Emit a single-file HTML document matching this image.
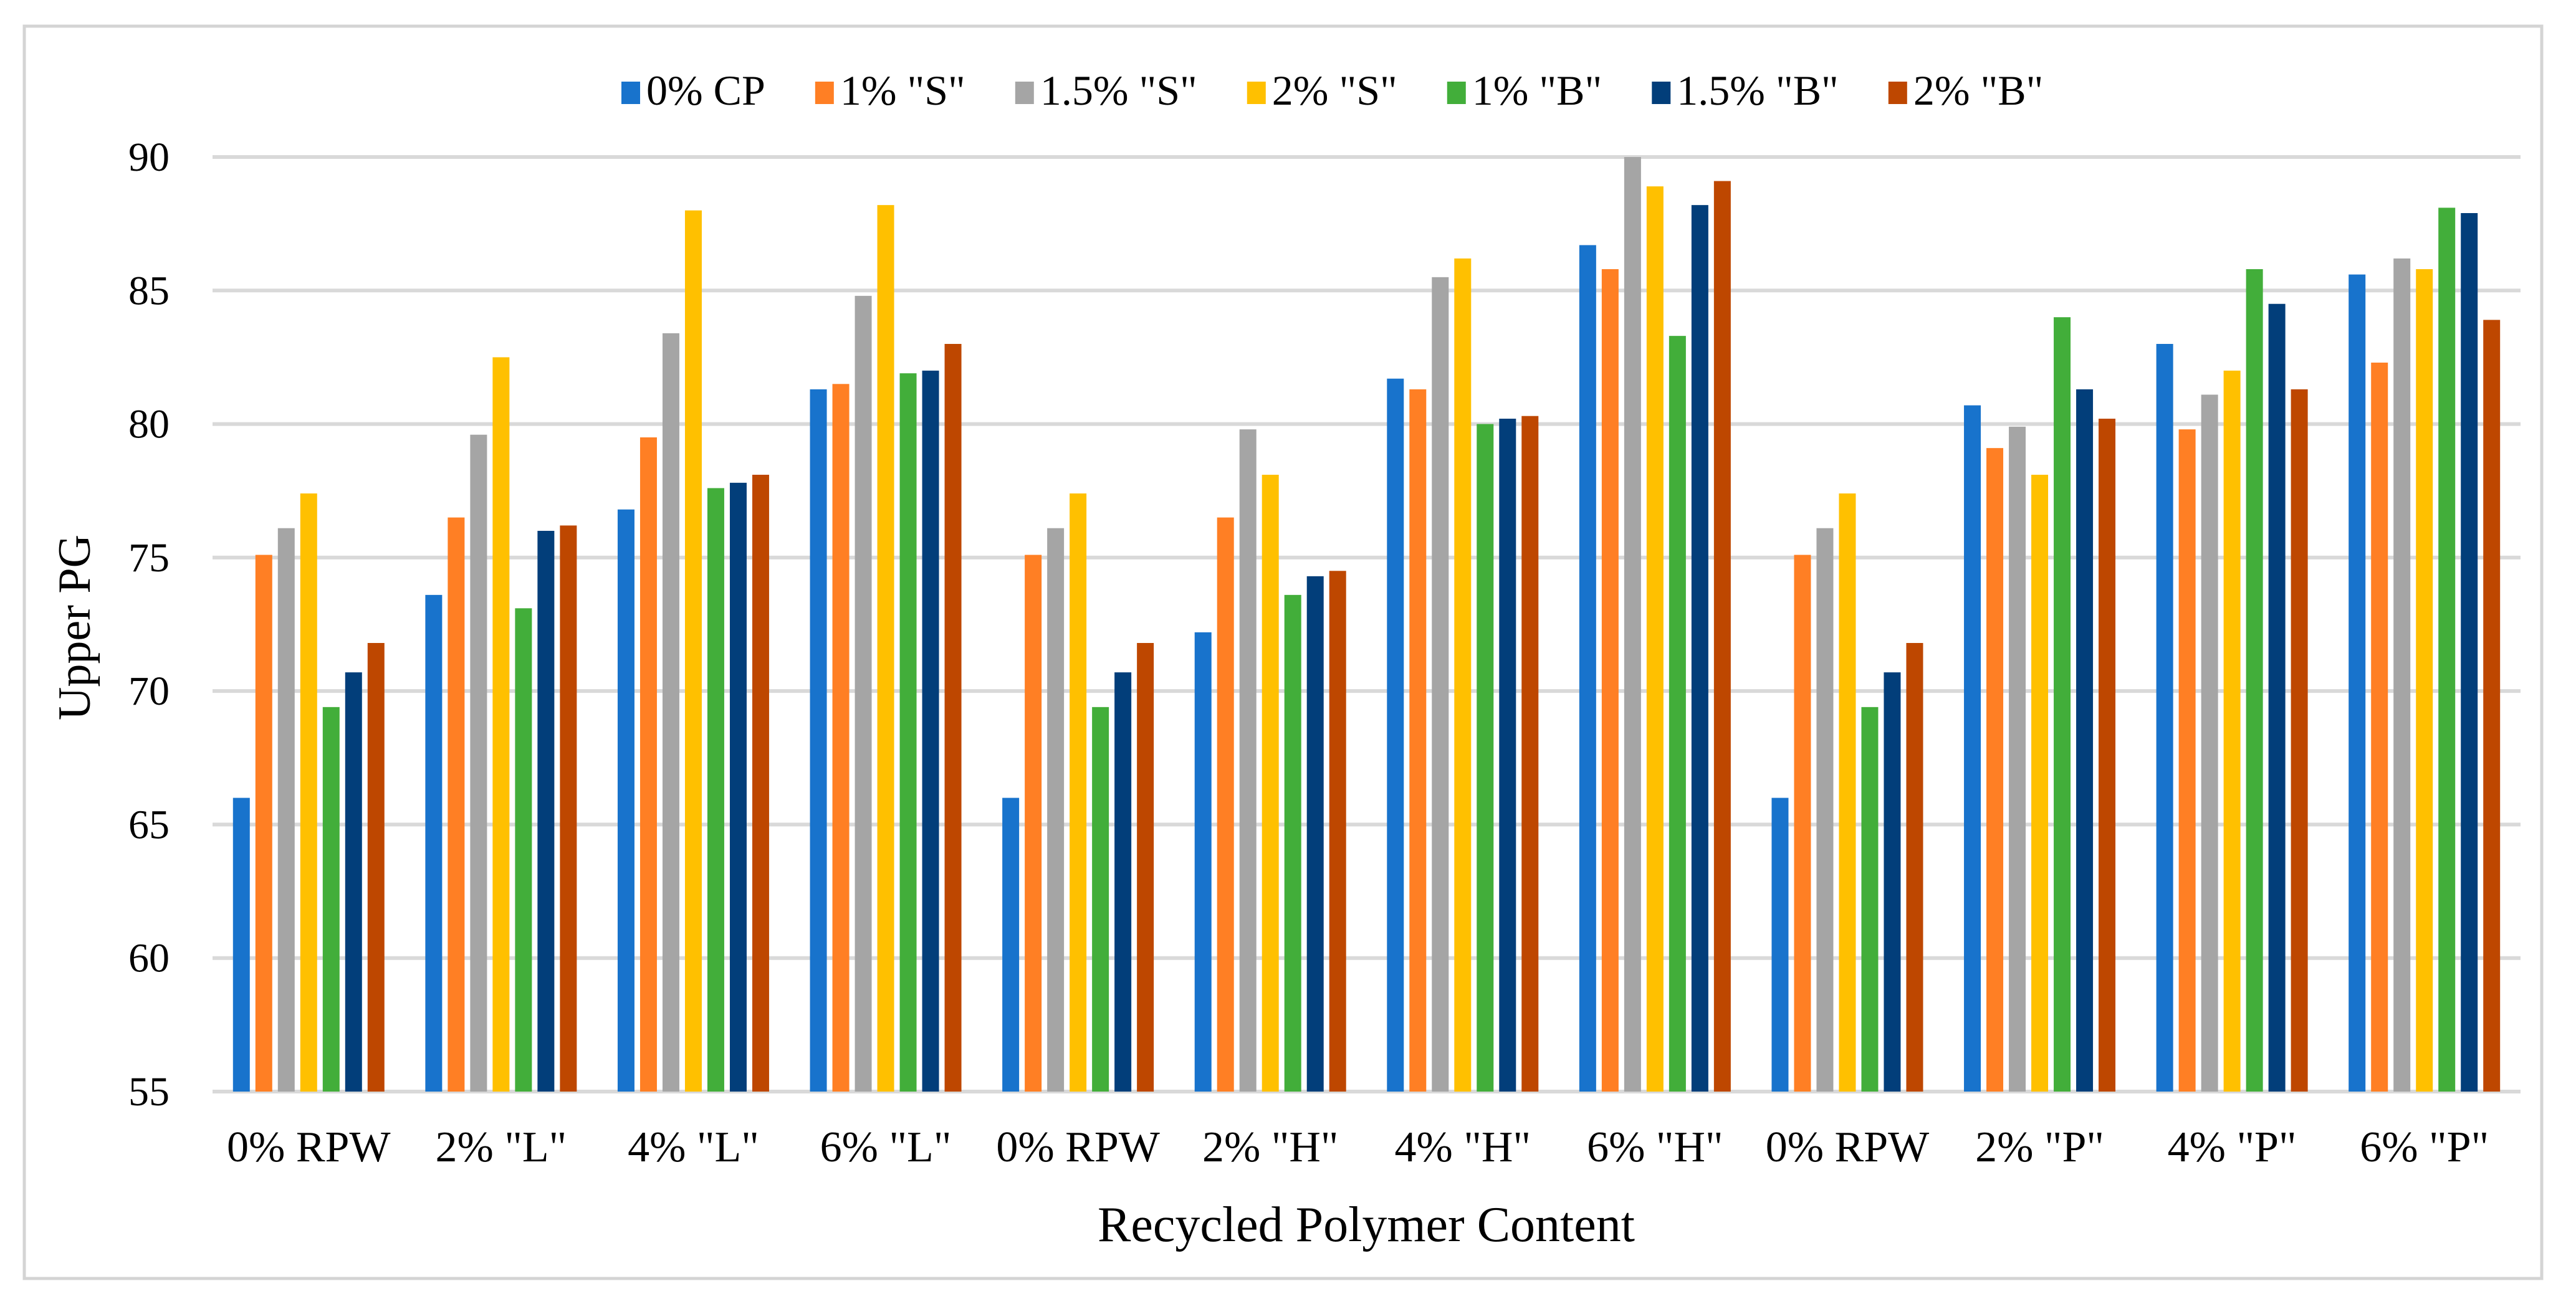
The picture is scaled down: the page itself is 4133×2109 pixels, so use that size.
<!DOCTYPE html>
<html><head><meta charset="utf-8"><style>
html,body{margin:0;padding:0;background:#fff;}
svg{display:block;font-family:"Liberation Serif",serif;}
</style></head><body>
<svg id="chart" width="4133" height="2109" viewBox="0 0 4133 2109">
<rect x="0" y="0" width="4133" height="2109" fill="#fff"/>
<rect x="39" y="42" width="4039" height="2010" fill="#fff" stroke="#d4d4d4" stroke-width="5"/>
<g id="grid"></g><g id="bars"></g><g id="ylabels"></g><g id="xlabels"></g>
<g id="legend"></g>
<text x="127" y="1007" font-size="74" text-anchor="middle" transform="rotate(-90 127 1007)" dominant-baseline="middle">Upper PG</text>
<text x="2192" y="1992" font-size="80" text-anchor="middle">Recycled Polymer Content</text>
</svg>
<script>
const categories=['0% RPW','2% "L"','4% "L"','6% "L"','0% RPW','2% "H"','4% "H"','6% "H"','0% RPW','2% "P"','4% "P"','6% "P"'];
const seriesNames=['0% CP','1% "S"','1.5% "S"','2% "S"','1% "B"','1.5% "B"','2% "B"'];
const s0CP=[66,73.6,76.8,81.3,66,72.2,81.7,86.7,66,80.7,83,85.6];
const s1S=[75.1,76.5,79.5,81.5,75.1,76.5,81.3,85.8,75.1,79.1,79.8,82.3];
const s15S=[76.1,79.6,83.4,84.8,76.1,79.8,85.5,90,76.1,79.9,81.1,86.2];
const s2S=[77.4,82.5,88,88.2,77.4,78.1,86.2,88.9,77.4,78.1,82,85.8];
const s1B=[69.4,73.1,77.6,81.9,69.4,73.6,80,83.3,69.4,84,85.8,88.1];
const s15B=[70.7,76,77.8,82,70.7,74.3,80.2,88.2,70.7,81.3,84.5,87.9];
const s2B=[71.8,76.2,78.1,83,71.8,74.5,80.3,89.1,71.8,80.2,81.3,83.9];
const yTicks=[55,60,65,70,75,80,85,90];
const series=[s0CP,s1S,s15S,s2S,s1B,s15B,s2B];
const colors=['#1873CC','#FF7F24','#A5A5A5','#FFC000','#42AE3A','#023E7A','#BE4700'];
const NS='http://www.w3.org/2000/svg';
const PL=341,PR=4044,Y0=1752,Y1=252,YMIN=55,YMAX=90;
const band=(PR-PL)/categories.length;
const yS=v=>Y0-(v-YMIN)/(YMAX-YMIN)*(Y0-Y1);
const xC=i=>PL+band*(i+0.5);
const BW=27,PITCH=36;
function mk(tag,attrs,parent){const e=document.createElementNS(NS,tag);for(const k in attrs)e.setAttribute(k,attrs[k]);parent.appendChild(e);return e;}
const grid=document.getElementById('grid'),yl=document.getElementById('ylabels');
yTicks.forEach(t=>{
  const l=mk('line',{x1:PL,x2:PR,y1:yS(t),y2:yS(t),stroke:'#d9d9d9','stroke-width':6},grid);
  
  
  const tx=mk('text',{x:272,y:yS(t)+22,'font-size':66,'text-anchor':'end'},yl);
  tx.textContent=t;
  
  
});
const bars=document.getElementById('bars'),xl=document.getElementById('xlabels');
categories.forEach((c,i)=>{
  const start=xC(i)-(PITCH*6+BW)/2;
  series.forEach((s,j)=>{
    const r=mk('rect',{x:start+j*PITCH,y:yS(s[i]),width:BW,height:Y0-yS(s[i]),fill:colors[j]},bars);
    
    
  });
  const tx=mk('text',{x:xC(i),y:1864,'font-size':70,'text-anchor':'middle'},xl);
  tx.textContent=c;
  
  
});
const lg=document.getElementById('legend');
let lx=997;
seriesNames.forEach((n,j)=>{
  const g=mk('g',{},lg);
  
  
  mk('rect',{x:lx,y:131,width:30,height:36,fill:colors[j]},g);
  const t=mk('text',{x:lx+40,y:168,'font-size':68},g);
  t.textContent=n;
  lx+=40+t.getComputedTextLength()+80;
});
</script>
</body></html>
